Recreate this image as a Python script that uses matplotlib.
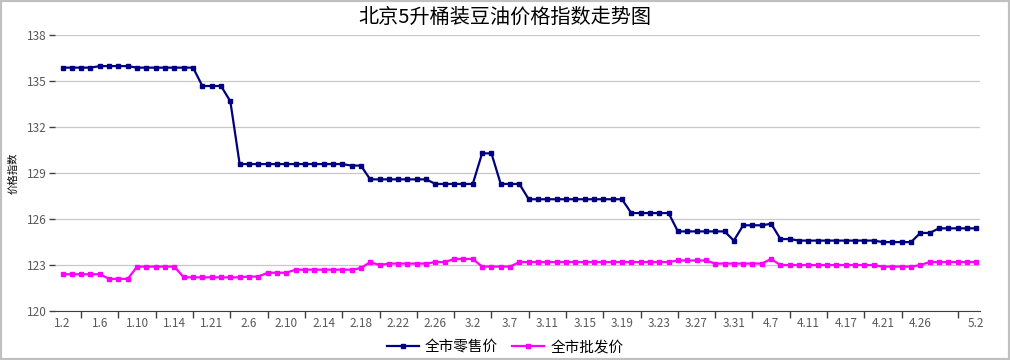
import numpy as np
from matplotlib import pyplot as plt
from matplotlib.patches import Rectangle

plt.rcParams['font.family'] = ['Noto Sans CJK SC', 'DejaVu Sans']

# retail index (全市零售价), one value per day
retail = ([135.9] * 4 + [136.0] * 4 + [135.9] * 7 + [134.7] * 3 + [133.7]
          + [129.6] * 12 + [129.5] * 2 + [128.6] * 7 + [128.3] * 5 + [130.3] * 2
          + [128.3] * 3 + [127.3] * 11 + [126.4] * 5 + [125.2] * 6 + [124.6]
          + [125.6] * 3 + [125.7] + [124.7] * 2 + [124.6] * 9 + [124.5] * 4
          + [125.1] * 2 + [125.4] * 5)

# wholesale index (全市批发价)
wholesale = ([122.4] * 5 + [122.1] * 3 + [122.9] * 5 + [122.2] * 7 + [122.25] * 2
             + [122.5] * 3 + [122.7] * 7 + [122.8] + [123.2] + [123.0] + [123.1] * 5
             + [123.2] * 2 + [123.4] * 3 + [122.9] * 4 + [123.2] * 17 + [123.3] * 4
             + [123.1] * 6 + [123.4] + [123.0] * 11 + [122.9] * 4 + [123.0]
             + [123.2] * 6)

tick_labels = ["1.2", "1.6", "1.10", "1.14", "1.21", "2.6", "2.10", "2.14", "2.18",
               "2.22", "2.26", "3.2", "3.7", "3.11", "3.15", "3.19", "3.23", "3.27",
               "3.31", "4.7", "4.11", "4.17", "4.21", "4.26", "5.2"]
label_pos = list(range(0, 93, 4)) + [98]
tick_pos = list(range(2, 91, 4)) + [96]

x = np.arange(len(retail))

fig = plt.figure(figsize=(10.1, 3.6), dpi=100)
ax = fig.add_axes([0.0545, 0.1361, 0.9158, 0.7653])

ax.plot(x, retail, color='#000080', lw=1.6, marker='s', ms=2.8, label='全市零售价')
ax.plot(x, wholesale, color='#ff00ff', lw=1.6, marker='s', ms=2.8, label='全市批发价')

ax.set_ylim(120, 138)
ax.set_yticks(np.arange(120, 139, 3))
ax.set_xlim(-0.8, 98.4)
ax.grid(axis='y', color='#c8c8c8', lw=0.9)
ax.set_axisbelow(True)

ax.set_xticks(tick_pos)
ax.set_xticklabels([])
ax.set_xticks(label_pos, minor=True)
ax.set_xticklabels(tick_labels, minor=True)
ax.tick_params(axis='x', which='major', length=5, width=1, color='#404040')
ax.tick_params(axis='x', which='minor', length=0, pad=4, labelsize=8.5, labelcolor='#595959')
ax.tick_params(axis='y', length=4, width=1, color='#404040', labelsize=8.5,
               labelcolor='#595959', pad=2)

for s in ['left', 'right', 'top']:
    ax.spines[s].set_visible(False)
ax.spines['bottom'].set_color('#404040')

ax.set_ylabel('价格指数', fontsize=7.5, labelpad=6)
fig.text(0.5, 0.952, '北京5升桶装豆油价格指数走势图', ha='center', va='center', fontsize=14.5)

fig.legend(loc='center', bbox_to_anchor=(0.5, 0.036), ncol=2, frameon=False,
           fontsize=10.5, handlelength=2.2, handletextpad=0.4, columnspacing=1.0)

fig.patches.append(Rectangle((0, 0), 1, 1, transform=fig.transFigure, fill=False,
                             edgecolor='#c0c0c0', lw=3))

fig.savefig('out.png', dpi=100)
